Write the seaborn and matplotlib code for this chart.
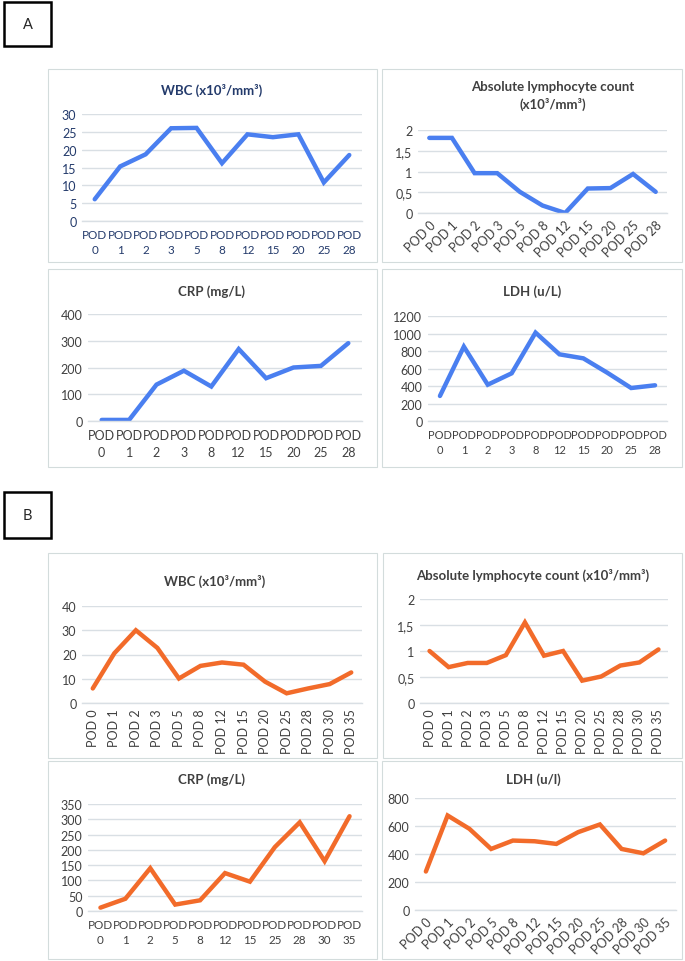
import matplotlib
matplotlib.use("Agg")
import matplotlib.pyplot as plt
import seaborn as sns
import pandas as pd
from matplotlib.patches import Rectangle

# ---- data: patient A ----
a_days = ["0", "1", "2", "3", "5", "8", "12", "15", "20", "25", "28"]
a_wbc = [6.1, 15.3, 18.7, 26.0, 26.1, 16.2, 24.3, 23.5, 24.3, 10.8, 18.5]
a_lymph = [1.81, 1.81, 0.96, 0.96, 0.51, 0.18, 0.0, 0.59, 0.60, 0.94, 0.51]
a_crp_days = ["0", "1", "2", "3", "8", "12", "15", "20", "25", "28"]
a_crp = [4, 4, 136, 188, 129, 269, 160, 200, 206, 291]
a_ldh_days = ["0", "1", "2", "3", "8", "12", "15", "20", "25", "28"]
a_ldh = [286, 850, 415, 545, 1010, 762, 716, 552, 377, 408]

# ---- data: patient B ----
b_days = ["0", "1", "2", "3", "5", "8", "12", "15", "20", "25", "28", "30", "35"]
b_wbc = [6.0, 20.5, 30.0, 22.7, 10.1, 15.3, 16.7, 15.8, 8.8, 4.0, 6.0, 7.8, 12.6]
b_lymph = [1.0, 0.69, 0.77, 0.77, 0.92, 1.55, 0.91, 1.0, 0.43, 0.51, 0.72, 0.78, 1.03]
b_crp_days = ["0", "1", "2", "5", "8", "12", "15", "25", "28", "30", "35"]
b_crp = [11, 40, 140, 21, 35, 124, 96, 209, 290, 163, 310]
b_ldh_days = ["0", "1", "2", "5", "8", "12", "15", "20", "25", "28", "30", "35"]
b_ldh = [275, 675, 580, 436, 496, 491, 472, 556, 611, 436, 405, 496]

# y tick labels (comma decimals as in the original)
wbc_a_ticks = [0, 5, 10, 15, 20, 25, 30]
lymph_ticks = [0, 0.5, 1, 1.5, 2]
lymph_labels = ["0", "0,5", "1", "1,5", "2"]
crp_a_ticks = [0, 100, 200, 300, 400]
ldh_a_ticks = [0, 200, 400, 600, 800, 1000, 1200]
wbc_b_ticks = [0, 10, 20, 30, 40]
crp_b_ticks = [0, 50, 100, 150, 200, 250, 300, 350]
ldh_b_ticks = [0, 200, 400, 600, 800]

sns.set_style("white")
plt.rcParams['font.family'] = ['Lato', 'DejaVu Sans']

W, H = 685, 962
BLUE = "#4a7ff0"
ORANGE = "#f26b2a"
NAVY = "#233a6b"
GREY = "#404040"
GRID = "#d9dfe4"
BORDER = "#d3dcdc"

fig = plt.figure(figsize=(W / 100, H / 100), dpi=100)


def box(x0, y0, x1, y1, lw=0.8, color=BORDER):
    fig.patches.append(Rectangle((x0 / W, 1 - y1 / H), (x1 - x0) / W, (y1 - y0) / H,
                                 transform=fig.transFigure, fill=False,
                                 edgecolor=color, linewidth=lw))


def panel(x0, y0, x1, y1, days, vals, ticks, color, title, tx, ty, rot=0,
          labels=None, txtcol=GREY, two_line=False, boundary_ticks=False, xsize=9):
    ax = fig.add_axes([x0 / W, 1 - y1 / H, (x1 - x0) / W, (y1 - y0) / H])
    df = pd.DataFrame({"day": ["POD " + d for d in days], "val": vals})
    sns.lineplot(data=df, x="day", y="val", ax=ax, color=color, linewidth=3.2,
                 solid_joinstyle="miter", sort=False)
    ax.set_xlim(-0.5, len(days) - 0.5)
    ax.set_ylim(ticks[0], ticks[-1])
    ax.set_yticks(ticks)
    ax.set_yticklabels(labels if labels else [str(t) for t in ticks])
    ax.set_xticks(range(len(days)))
    if two_line:
        ax.set_xticklabels(["POD\n" + d for d in days], linespacing=1.45)
    else:
        ax.set_xticklabels(["POD " + d for d in days])
    for lab in ax.get_xticklabels():
        lab.set_rotation(rot)
        if rot == 45:
            lab.set_ha("right")
            lab.set_rotation_mode("anchor")
    ax.tick_params(axis="both", length=0, labelsize=9, colors=txtcol, pad=4)
    ax.tick_params(axis="x", pad=6 if rot == 0 else 4, labelsize=xsize)
    ax.yaxis.grid(True, color=GRID, linewidth=1)
    ax.set_axisbelow(True)
    for s in ["top", "right", "left"]:
        ax.spines[s].set_visible(False)
    ax.spines["bottom"].set_color(GRID)
    ax.spines["bottom"].set_linewidth(1)
    ax.set_xlabel("")
    ax.set_ylabel("")
    ax.patch.set_alpha(0)
    if boundary_ticks:
        ax.set_xticks([i - 0.5 for i in range(len(days) + 1)], minor=True)
        ax.tick_params(axis="x", which="minor", length=4, color=GRID, width=1)
    fig.text(tx / W, 1 - ty / H, title, ha="center", va="center",
             fontsize=9.5, fontweight="bold", color=txtcol, linespacing=1.5)
    return ax


# label boxes
box(4, 3, 51, 47, lw=1.8, color="black")
fig.text(27.5 / W, 1 - 25 / H, "A", ha="center", va="center", fontsize=10.5)
box(4, 493, 51, 539, lw=1.8, color="black")
fig.text(27.5 / W, 1 - 516 / H, "B", ha="center", va="center", fontsize=10.5)

# panel frames
box(48, 70, 377, 263)
box(382, 70, 682, 263)
box(48, 270, 377, 468)
box(382, 270, 682, 468)
box(48, 554, 377, 759)
box(383, 554, 682, 759)
box(48, 762, 377, 960)
box(382, 762, 682, 960)

# A
panel(82, 115, 362, 222, a_days, a_wbc, wbc_a_ticks, BLUE,
      "WBC (x10³/mm³)", 212, 90, txtcol=NAVY, two_line=True,
      boundary_ticks=True, xsize=8.4)
panel(418, 131, 667, 214, a_days, a_lymph, lymph_ticks, BLUE,
      "Absolute lymphocyte count\n(x10³/mm³)", 553, 96, rot=45, labels=lymph_labels)
panel(88, 315, 362, 422, a_crp_days, a_crp, crp_a_ticks, BLUE,
      "CRP (mg/L)", 212, 292, two_line=True)
panel(428, 317, 667, 422, a_ldh_days, a_ldh, ldh_a_ticks, BLUE,
      "LDH (u/L)", 532, 292, two_line=True, xsize=8)

# B
panel(82, 607, 362, 704, b_days, b_wbc, wbc_b_ticks, ORANGE,
      "WBC (x10³/mm³)", 215, 581, rot=90)
panel(420, 600, 668, 704, b_days, b_lymph, lymph_ticks, ORANGE,
      "Absolute lymphocyte count (x10³/mm³)", 533, 575, rot=90, labels=lymph_labels)
panel(88, 805, 362, 912, b_crp_days, b_crp, crp_b_ticks, ORANGE,
      "CRP (mg/L)", 212, 780, two_line=True, xsize=8.4)
panel(415, 799, 676, 911, b_ldh_days, b_ldh, ldh_b_ticks, ORANGE,
      "LDH (u/l)", 533, 780, rot=45)

fig.savefig("out.png", dpi=100, facecolor="white")
